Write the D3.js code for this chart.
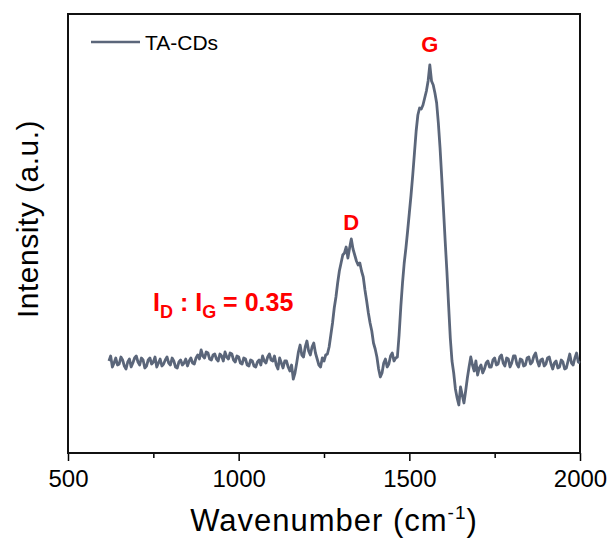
<!DOCTYPE html>
<html>
<head>
<meta charset="utf-8">
<script src="https://cdn.jsdelivr.net/npm/d3@7/dist/d3.min.js"></script>
<style>
  body { margin: 0; background: #fff; }
  text { font-family: Arial, "Liberation Sans", sans-serif; }
</style>
</head>
<body>
<svg width="612" height="544"></svg>
<script>
// Raman spectrum (5 cm-1 steps from 620, arbitrary intensity)
const wavenumbers = d3.range(620, 2001, 5)
const intensity = [
  92, 97, 86, 90, 95, 88, 89, 96, 93, 87, 84, 91, 94, 86, 90, 95, 97, 91, 88, 95,
  93, 85, 87, 93, 95, 89, 91, 96, 86, 90, 94, 87, 89, 93, 96, 90, 88, 95, 92, 86,
  85, 91, 93, 88, 90, 94, 87, 92, 95, 90, 89, 95, 98, 94, 103, 97, 95, 101, 100, 94,
  93, 98, 99, 94, 92, 99, 97, 92, 101, 96, 94, 100, 99, 93, 91, 97, 96, 90, 89, 95,
  94, 88, 87, 93, 92, 87, 86, 91, 93, 88, 97, 92, 90, 96, 99, 93, 92, 97, 88, 84,
  95, 90, 85, 92, 92, 86, 82, 88, 74, 80, 90, 101, 108, 98, 96, 106, 112, 102, 98, 106,
  110, 100, 94, 88, 86, 95, 92, 98, 99, 106, 118, 130, 145, 156, 170, 182, 190, 198, 200, 206,
  195, 205, 214, 204, 198, 192, 188, 190, 182, 176, 163, 152, 140, 130, 122, 110, 104, 96, 84, 76,
  80, 90, 94, 86, 89, 97, 100, 92, 95, 96, 118, 146, 170, 190, 205, 222, 240, 258, 278, 300,
  322, 338, 345, 344, 348, 355, 362, 372, 388, 372, 368, 360, 350, 330, 305, 275, 244, 212, 182, 148,
  115, 92, 80, 64, 55, 48, 66, 58, 50, 62, 75, 86, 96, 88, 82, 92, 78, 85, 88, 80,
  84, 90, 92, 86, 86, 93, 95, 88, 89, 96, 98, 90, 87, 95, 94, 86, 90, 97, 97, 89,
  86, 94, 93, 87, 88, 95, 96, 89, 91, 97, 100, 92, 87, 93, 94, 87, 89, 95, 96, 89,
  84, 90, 92, 85, 86, 93, 91, 84, 85, 92, 99, 90, 88, 95, 100, 91, 90
]
const xTicks = [500, 1000, 1500, 2000]
const xMinorTicks = [750, 1250, 1750]
const seriesName = "TA-CDs"
const lineColor = "#5b667a"

const data = wavenumbers.map((w, i) => ({w: w, v: intensity[i]})).filter(d => d.v != null)

const plotLeft = 68, plotRight = 580, plotTop = 14, plotBottom = 453

const svg = d3.select("svg")

const x = d3.scaleLinear().domain([500, 2000]).range([plotLeft, plotRight])
const y = d3.scaleLinear().domain([0, 439]).range([plotBottom, plotTop])

// minor ticks first, then the major axis
svg.append("g")
  .attr("transform", `translate(0,${plotBottom})`)
  .call(d3.axisBottom(x).tickValues(xMinorTicks).tickSize(5).tickFormat(""))
  .call(g => g.select(".domain").remove())
  .call(g => g.selectAll("line").attr("stroke-width", 1.5))

svg.append("g")
  .attr("transform", `translate(0,${plotBottom})`)
  .call(d3.axisBottom(x).tickValues(xTicks).tickSize(8).tickSizeOuter(0).tickPadding(9).tickFormat(d3.format("d")))
  .call(g => g.select(".domain").remove())
  .call(g => g.selectAll("line").attr("stroke-width", 1.5))
  .call(g => g.selectAll("text").attr("font-size", 24).attr("fill", "#000"))

// frame
svg.append("rect")
  .attr("x", plotLeft).attr("y", plotTop)
  .attr("width", plotRight - plotLeft).attr("height", plotBottom - plotTop)
  .attr("fill", "none").attr("stroke", "#111").attr("stroke-width", 2)

const line = d3.line().x(d => x(d.w)).y(d => y(d.v))

svg.append("path")
  .datum(data)
  .attr("d", line)
  .attr("fill", "none")
  .attr("stroke", lineColor)
  .attr("stroke-width", 2.8)
  .attr("stroke-linejoin", "round")

// legend
svg.append("line")
  .attr("x1", 91).attr("x2", 140).attr("y1", 42).attr("y2", 42)
  .attr("stroke", lineColor).attr("stroke-width", 2.5)
svg.append("text")
  .attr("x", 145).attr("y", 50)
  .attr("font-size", 21)
  .text(seriesName)

// peak labels
svg.append("text")
  .attr("x", x(1330)).attr("y", 230)
  .attr("text-anchor", "middle").attr("font-size", 22).attr("font-weight", "bold")
  .attr("fill", "#ff0000").text("D")
svg.append("text")
  .attr("x", x(1560)).attr("y", 52)
  .attr("text-anchor", "middle").attr("font-size", 22).attr("font-weight", "bold")
  .attr("fill", "#ff0000").text("G")

const ratio = svg.append("text")
  .attr("x", 153).attr("y", 311)
  .attr("font-size", 25).attr("font-weight", "bold").attr("fill", "#ff0000")
ratio.append("tspan").text("I")
ratio.append("tspan").attr("dy", 7).attr("font-size", 18).text("D")
ratio.append("tspan").attr("dy", -7).text(" : I")
ratio.append("tspan").attr("dy", 7).attr("font-size", 18).text("G")
ratio.append("tspan").attr("dy", -7).text(" = 0.35")

// axis titles
const xt = svg.append("text")
  .attr("x", 334).attr("y", 531)
  .attr("text-anchor", "middle").attr("font-size", 31).attr("letter-spacing", 1)
xt.append("tspan").text("Wavenumber (cm")
xt.append("tspan").attr("dy", -12).attr("font-size", 19).text("-1")
xt.append("tspan").attr("dy", 12).text(")")

svg.append("text")
  .attr("transform", `translate(38,219) rotate(-90)`)
  .attr("text-anchor", "middle").attr("font-size", 30).attr("letter-spacing", 0.5)
  .text("Intensity (a.u.)")
</script>
</body>
</html>
